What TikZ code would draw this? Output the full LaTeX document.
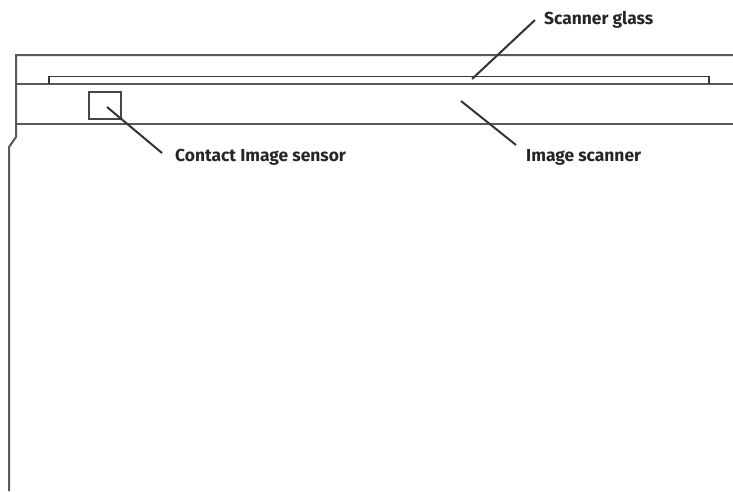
\documentclass[tikz,border=0pt]{standalone}
\usepackage{fontspec}
\setmainfont{Fira Sans}
\tikzset{
  outline/.style={draw=black!65,line width=2pt,line join=miter},
  glassline/.style={draw=black!78,line width=1.8pt},
  leader/.style={draw=black!80,line width=2pt},
  callout/.style={inner sep=0pt,anchor=base west,text=black!85,font=\fontsize{17.4}{19}\selectfont\bfseries}
}
\begin{document}
\begin{tikzpicture}[x=1pt,y=-1pt]
\useasboundingbox (0,0) rectangle (733,491);
\fill[white] (0,0) rectangle (733,491);
% housing
\coordinate (topR) at (733,55);
\coordinate (midL) at (16,84);
\coordinate (midR) at (733,84);
\coordinate (lowL) at (16,124);
\coordinate (lowR) at (733,124);
\draw[outline] (topR) -- (16,55) -- (16,137) -- (9,147) -- (9,491);
\draw[outline] (midL) -- (midR);
\draw[outline] (lowL) -- (lowR);
% glass
\draw[glassline] (49,84) -- (49,76.500) -- (709,76.500) -- (709,84);
% sensor
\node[draw=black!72,line width=2pt,minimum width=32pt,minimum height=27pt,inner sep=0pt] (sensor) at (105,105.500) {};
% labels
\node[callout] (glass) at (544,24) {Scanner glass};
\node[callout] (cis) at (175,161) {Contact Image sensor};
\node[callout] (scanner) at (526,161) {Image scanner};
% leaders
\coordinate (glassEnd) at (472,79);
\coordinate (scanEnd) at (461,101);
\coordinate (sensorEnd) at (107,107);
\draw[leader] (glassEnd) -- (535,20);
\draw[leader] (scanEnd) -- (516,145);
\draw[leader] (sensorEnd) -- (162,153);
\end{tikzpicture}
\end{document}
